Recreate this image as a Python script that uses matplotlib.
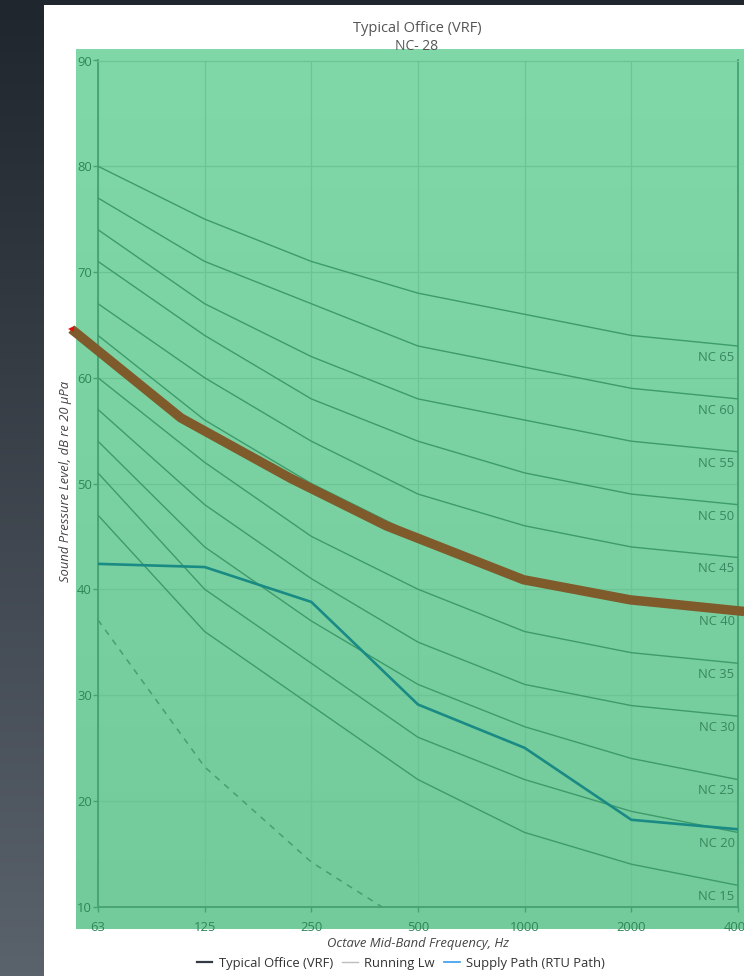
import numpy as np
import matplotlib
matplotlib.use("Agg")
import matplotlib.pyplot as plt
from matplotlib.colors import LinearSegmentedColormap
from matplotlib.patches import Rectangle
from matplotlib.lines import Line2D

plt.rcParams['font.family'] = ['Open Sans', 'DejaVu Sans']

# ---------------- data ----------------
bands = ['63', '125', '250', '500', '1000', '2000', '4000']
band_hz = [63, 125, 250, 500, 1000, 2000, 4000]

nc_ratings = [15, 20, 25, 30, 35, 40, 45, 50, 55, 60, 65]
nc15 = [47, 36, 29, 22, 17, 14, 12]
nc20 = [51, 40, 33, 26, 22, 19, 17]
nc25 = [54, 44, 37, 31, 27, 24, 22]
nc30 = [57, 48, 41, 35, 31, 29, 28]
nc35 = [60, 52, 45, 40, 36, 34, 33]
nc40 = [64, 56, 50, 45, 41, 39, 38]
nc45 = [67, 60, 54, 49, 46, 44, 43]
nc50 = [71, 64, 58, 54, 51, 49, 48]
nc55 = [74, 67, 62, 58, 56, 54, 53]
nc60 = [77, 71, 67, 63, 61, 59, 58]
nc65 = [80, 75, 71, 68, 66, 64, 63]
nc_curves = [nc15, nc20, nc25, nc30, nc35, nc40, nc45, nc50, nc55, nc60, nc65]

# Typical Office (VRF) criterion curve (thick brown), read at its vertices
office_hz = [53, 108, 220, 410, 1000, 2000, 4200]
office_db = [64.6, 56.2, 50.5, 46.0, 40.9, 39.0, 37.9]

# Supply path (teal)
supply_db = [42.4, 42.1, 38.8, 29.1, 25.0, 18.2, 17.3]

# Running Lw (dashed)
running_db = [37.1, 23.2, 14.2, 7.8]

title = 'Typical Office (VRF)'
subtitle = 'NC- 28'
xlabel = 'Octave Mid-Band Frequency, Hz'
ylabel = 'Sound Pressure Level, dB re 20 \u00b5Pa'
legend_labels = ['Typical Office (VRF)', 'Running Lw', 'Supply Path (RTU Path)']

# ---------------- styles ----------------
W, H = 744, 976
NC_COLOR = '#3d9b6c'
GRID_COLOR = '#6cc393'
SPINE_COLOR = '#45a272'
TICKLAB_COLOR = '#2f8758'
NCLAB_COLOR = '#3a8660'
TEAL = '#1a8a84'
BROWN = '#7f5a2b'
DASH = '#45a070'
FS = 9.4

fig = plt.figure(figsize=(W / 100, H / 100), dpi=100)

# background layer (pixel coordinates)
bg = fig.add_axes([0, 0, 1, 1])
bg.axis('off')
grad = np.linspace(0, 1, 256).reshape(-1, 1)
dark = LinearSegmentedColormap.from_list('dark', ['#20262d', '#5a626c'])
bg.imshow(grad, extent=(0, 44, H, 0), cmap=dark, aspect='auto', origin='upper')
bg.add_patch(Rectangle((0, 0), W, 5, color='#20262d', lw=0))
bg.add_patch(Rectangle((44, 5), W - 44, H - 5, color='white', lw=0))
green = LinearSegmentedColormap.from_list('green', ['#80d8a8', '#73cb9b'])
bg.imshow(grad, extent=(76, W, 929.5, 50), cmap=green, aspect='auto', origin='upper', zorder=2)
bg.set_xlim(0, W)
bg.set_ylim(H, 0)

# main axes
x0, x1 = 98, 738
y_top, y_bot = 60.5, 906.5
ax = fig.add_axes([x0 / W, 1 - y_bot / H, (x1 - x0) / W, (y_bot - y_top) / H])
ax.patch.set_alpha(0)
ax.set_xlim(0, len(bands) - 1)
ax.set_ylim(10, 90)
xpos = np.arange(len(bands))

ax.set_axisbelow(True)
ax.grid(True, color=GRID_COLOR, lw=0.9)

for n, c in zip(nc_ratings, nc_curves):
    ax.plot(xpos, c, color=NC_COLOR, lw=1.0, zorder=3)
    ax.annotate(f'NC {n}', xy=(xpos[-1], c[-1]), xytext=(-2.5, -8.2),
                textcoords='offset points', ha='right', va='center',
                fontsize=FS, color=NCLAB_COLOR, zorder=4)

ax.plot(xpos[:len(running_db)], running_db, color=DASH, lw=1.1,
        dashes=(4, 4), zorder=3)
ax.plot(xpos, supply_db, color=TEAL, lw=1.9, zorder=5)

office_x = np.log2(np.array(office_hz) / band_hz[0])
ax.plot(office_x, office_db, color=BROWN, lw=6.8, solid_capstyle='butt',
        solid_joinstyle='round', clip_on=False, zorder=6)
ax.plot(office_x[:1], office_db[:1], marker='<', color='#e01010', ms=4.5,
        markeredgewidth=0, clip_on=False, zorder=7)

ax.set_xticks(xpos)
ax.set_xticklabels(bands)
ax.set_yticks(np.arange(10, 91, 10))
ax.tick_params(axis='both', colors=SPINE_COLOR, labelcolor=TICKLAB_COLOR,
               length=3.8, width=1.0, labelsize=FS)
ax.tick_params(axis='x', pad=6.5)
ax.tick_params(axis='y', pad=0.6)
for side in ['left', 'bottom', 'right']:
    ax.spines[side].set_color(SPINE_COLOR)
    ax.spines[side].set_linewidth(1.3)
ax.spines['top'].set_color(GRID_COLOR)
ax.spines['top'].set_linewidth(0.9)

# texts
fig.text(417 / W, 1 - 28.5 / H, title, ha='center', va='center', fontsize=10.5, color='#555555')
fig.text(417 / W, 1 - 46.5 / H, subtitle, ha='center', va='center', fontsize=10, color='#555555', zorder=1)
fig.text(418 / W, 1 - 944 / H, xlabel, ha='center', va='center', fontsize=FS,
         fontstyle='italic', color='#444444')
fig.text(65 / W, 1 - 481 / H, ylabel, ha='center', va='center', fontsize=FS,
         fontstyle='italic', color='#444444', rotation=90)

handles = [Line2D([], [], color='#333a44', lw=1.6),
           Line2D([], [], color='#bdbdbd', lw=1.0),
           Line2D([], [], color='#4aa3f0', lw=1.3)]
fig.legend(handles, legend_labels, loc='center', bbox_to_anchor=(401 / W, 1 - 963 / H),
           ncol=3, frameon=False, fontsize=FS, handlelength=1.2, handletextpad=0.5,
           columnspacing=0.7, labelcolor='#333333', borderaxespad=0)

fig.savefig('out.png', dpi=100)
